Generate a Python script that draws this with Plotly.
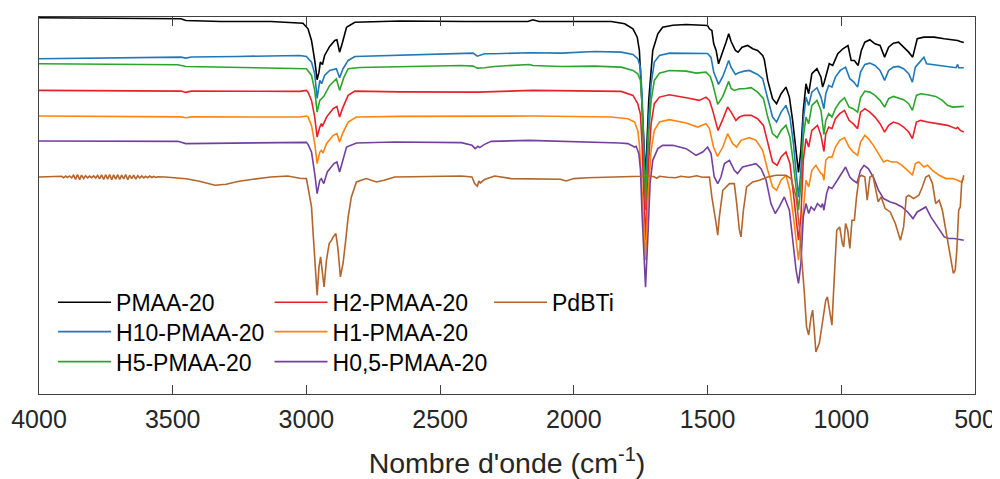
import plotly.graph_objects as go

# ---------------- data (wavenumber cm-1, transmittance a.u. with offsets) ----------------
X_TICKS = [4000, 3500, 3000, 2500, 2000, 1500, 1000, 500]

PMAA20 = [
    (4000, 376.7), (3700, 376.0), (3469, 375.7), (3451, 374.0), (3320, 373.0), (3133, 373.0),
    (3070, 372.5), (3025, 372.0), (3013, 371.3), (2994, 365.7), (2981, 354.0), (2969, 334.0),
    (2960, 314.7), (2953, 322.3), (2948, 332.3), (2940, 330.0), (2932, 339.0), (2913, 348.0),
    (2894, 354.0), (2886, 354.7), (2876, 342.3), (2865, 352.3), (2850, 367.3), (2819, 372.3),
    (2726, 373.3), (2651, 373.5), (2400, 373.0), (2172, 373.0), (2153, 374.7), (2130, 373.0),
    (1860, 373.0), (1810, 370.7), (1779, 365.7), (1763, 357.3), (1755, 344.0), (1748, 311.0),
    (1740, 262.0), (1732, 216.0), (1725, 255.0), (1720, 294.0), (1705, 344.0), (1686, 360.7),
    (1668, 367.3), (1630, 369.3), (1580, 370.0), (1531, 369.0), (1500, 369.0), (1493, 365.7),
    (1484, 364.0), (1477, 350.7), (1468, 344.0), (1459, 330.7), (1443, 342.0), (1431, 352.3),
    (1421, 360.7), (1412, 353.0), (1396, 344.0), (1386, 342.3), (1371, 347.3), (1350, 349.0),
    (1331, 345.7), (1313, 344.0), (1294, 339.0), (1288, 335.0), (1275, 314.0), (1257, 295.7),
    (1242, 290.7), (1225, 300.7), (1207, 307.3), (1194, 297.3), (1182, 274.0), (1169, 244.0),
    (1160, 222.0), (1151, 244.0), (1142, 284.0), (1132, 310.7), (1122, 300.7), (1110, 320.7),
    (1091, 325.7), (1076, 317.3), (1070, 307.3), (1064, 312.0), (1045, 330.7), (1032, 329.0),
    (1013, 340.7), (994, 345.7), (975, 349.0), (963, 334.0), (951, 334.0), (937, 329.0),
    (925, 344.0), (912, 352.3), (893, 354.7), (874, 350.7), (855, 349.0), (838, 337.3),
    (823, 347.3), (805, 351.3), (786, 352.3), (767, 347.3), (748, 342.3), (733, 337.3),
    (716, 355.7), (691, 357.3), (653, 357.3), (615, 355.7), (578, 354.7), (565, 354.0),
    (555, 353.0), (542, 352.0),
]

H10_PMAA20 = [
    (4000, 335.7), (3469, 337.3), (3451, 336.3), (3430, 337.5), (3257, 338.0), (3025, 339.0),
    (3000, 338.0), (2981, 332.3), (2969, 320.7), (2960, 296.0), (2950, 314.0), (2943, 310.7),
    (2932, 319.0), (2913, 324.0), (2888, 325.7), (2876, 316.7), (2863, 325.7), (2844, 334.0),
    (2819, 338.0), (2651, 339.5), (2421, 341.3), (2377, 341.3), (2361, 338.3), (2334, 340.7),
    (2296, 340.7), (2166, 341.7), (2047, 341.3), (1973, 342.3), (1923, 343.0), (1823, 342.3),
    (1779, 340.0), (1761, 335.7), (1751, 327.3), (1745, 300.0), (1732, 202.0), (1720, 277.3),
    (1711, 310.7), (1699, 332.3), (1680, 339.0), (1643, 341.3), (1580, 341.3), (1531, 340.7),
    (1500, 341.0), (1487, 337.0), (1484, 332.3), (1477, 322.3), (1459, 310.0), (1443, 318.0),
    (1421, 334.0), (1412, 327.0), (1396, 320.0), (1384, 321.7), (1363, 323.3), (1344, 324.0),
    (1313, 320.0), (1294, 315.7), (1275, 295.7), (1257, 277.3), (1242, 272.3), (1225, 282.3),
    (1207, 289.0), (1192, 277.3), (1179, 250.7), (1167, 217.3), (1160, 197.0), (1151, 224.0),
    (1142, 274.0), (1132, 297.3), (1122, 289.0), (1110, 302.3), (1091, 306.7), (1076, 297.3),
    (1065, 285.7), (1058, 300.7), (1047, 309.0), (1035, 307.3), (1022, 317.3), (1004, 324.0),
    (984, 327.3), (968, 315.7), (953, 312.3), (939, 307.3), (928, 322.3), (912, 330.0),
    (893, 331.3), (874, 329.0), (855, 324.0), (838, 314.0), (823, 324.0), (805, 327.3),
    (786, 328.0), (767, 325.7), (748, 320.7), (734, 312.3), (723, 327.3), (710, 331.3),
    (697, 334.7), (691, 337.3), (681, 330.7), (659, 330.0), (628, 329.0), (590, 327.3),
    (571, 326.7), (565, 330.0), (561, 326.7), (542, 326.7),
]

H5_PMAA20 = [
    (4000, 330.7), (3481, 329.7), (3451, 328.0), (3257, 326.7), (3025, 325.7), (3000, 325.7),
    (2981, 319.0), (2969, 304.0), (2960, 282.3), (2950, 294.0), (2935, 298.0), (2913, 309.0),
    (2888, 315.7), (2876, 304.0), (2860, 317.0), (2844, 325.7), (2800, 327.0), (2651, 328.0),
    (2421, 329.0), (2377, 328.3), (2361, 326.3), (2334, 326.7), (2296, 328.0), (2166, 330.0),
    (2153, 329.0), (2047, 328.0), (1923, 328.3), (1823, 327.3), (1779, 324.0), (1761, 320.7),
    (1751, 314.0), (1745, 290.0), (1732, 184.0), (1720, 260.7), (1711, 294.0), (1699, 314.0),
    (1680, 321.3), (1643, 324.0), (1580, 323.3), (1543, 321.3), (1506, 322.3), (1490, 318.0),
    (1481, 310.7), (1462, 290.0), (1443, 298.0), (1421, 313.0), (1412, 306.0), (1400, 304.0),
    (1381, 305.7), (1363, 305.7), (1337, 306.7), (1313, 302.3), (1291, 295.7), (1275, 277.3),
    (1257, 260.7), (1240, 256.7), (1225, 264.0), (1207, 269.0), (1192, 257.3), (1179, 230.7),
    (1167, 197.3), (1160, 184.0), (1151, 210.7), (1142, 257.3), (1132, 277.3), (1122, 270.7),
    (1110, 289.0), (1091, 294.0), (1076, 284.0), (1065, 260.0), (1058, 274.0), (1047, 280.7),
    (1035, 277.3), (1022, 285.7), (1006, 292.3), (988, 296.7), (971, 287.3), (956, 285.7),
    (939, 282.3), (928, 296.7), (912, 303.3), (893, 302.3), (874, 299.0), (855, 294.0),
    (838, 287.3), (823, 295.7), (805, 298.0), (786, 296.7), (767, 294.7), (748, 290.7),
    (734, 284.0), (719, 299.0), (703, 300.7), (678, 299.7), (647, 298.0), (622, 294.0),
    (603, 289.0), (584, 287.3), (560, 288.0), (542, 288.0),
]

H2_PMAA20 = [
    (4000, 304.0), (3469, 303.3), (3451, 302.0), (3430, 303.3), (3025, 303.0), (3000, 304.0),
    (2994, 302.3), (2981, 294.0), (2969, 277.3), (2960, 257.3), (2950, 267.3), (2944, 270.7),
    (2940, 268.0), (2925, 277.3), (2900, 285.7), (2886, 288.0), (2876, 277.3), (2865, 286.0),
    (2844, 299.0), (2819, 303.3), (2651, 302.5), (2361, 302.3), (2153, 304.0), (1823, 303.0),
    (1779, 299.0), (1761, 290.7), (1751, 280.0), (1745, 250.0), (1732, 154.0), (1720, 234.0),
    (1711, 270.7), (1699, 290.7), (1680, 297.3), (1643, 299.7), (1580, 296.7), (1543, 294.7),
    (1531, 294.0), (1506, 297.3), (1493, 294.0), (1481, 284.0), (1461, 264.0), (1443, 275.0),
    (1425, 287.3), (1412, 282.3), (1394, 274.0), (1381, 277.3), (1363, 279.0), (1337, 279.0),
    (1313, 275.7), (1291, 269.0), (1275, 250.7), (1257, 232.3), (1240, 229.0), (1225, 237.3),
    (1207, 242.3), (1192, 230.7), (1179, 200.7), (1167, 167.3), (1160, 154.0), (1151, 177.3),
    (1142, 234.0), (1132, 255.7), (1122, 247.3), (1110, 264.0), (1089, 269.0), (1076, 259.0),
    (1072, 252.3), (1065, 243.0), (1058, 260.7), (1047, 267.3), (1035, 265.7), (1022, 275.7),
    (1006, 280.7), (988, 284.0), (971, 274.0), (956, 270.7), (939, 265.7), (928, 282.3),
    (912, 285.7), (893, 282.3), (874, 277.3), (855, 270.7), (838, 262.3), (823, 269.0),
    (805, 272.3), (786, 270.7), (767, 267.3), (748, 262.3), (734, 255.7), (719, 272.3),
    (703, 274.0), (678, 272.3), (641, 270.7), (603, 269.0), (571, 265.7), (565, 267.0),
    (555, 264.0), (542, 262.3),
]

H1_PMAA20 = [
    (4000, 278.3), (3469, 277.5), (3451, 276.7), (3430, 277.5), (3025, 277.3), (3000, 278.3),
    (2994, 277.3), (2981, 269.0), (2969, 250.7), (2960, 230.7), (2950, 242.3), (2944, 244.0),
    (2938, 241.3), (2925, 250.7), (2900, 259.0), (2886, 260.7), (2876, 252.3), (2865, 260.7),
    (2844, 272.3), (2813, 277.3), (2651, 278.0), (2153, 278.3), (1860, 277.3), (1798, 275.7),
    (1773, 272.3), (1761, 264.0), (1755, 250.0), (1748, 220.0), (1732, 134.0), (1722, 200.0),
    (1711, 244.0), (1699, 264.0), (1680, 272.3), (1643, 274.7), (1580, 271.3), (1537, 267.3),
    (1506, 270.7), (1493, 265.7), (1478, 247.3), (1463, 238.0), (1443, 247.3), (1425, 260.7),
    (1406, 250.7), (1391, 247.3), (1375, 254.0), (1344, 256.7), (1319, 254.0), (1294, 244.0),
    (1275, 224.0), (1257, 207.3), (1242, 204.0), (1225, 214.0), (1207, 219.0), (1192, 204.0),
    (1179, 177.3), (1167, 150.7), (1160, 134.0), (1151, 157.3), (1138, 197.3), (1132, 214.0),
    (1122, 207.3), (1110, 224.0), (1095, 229.0), (1076, 220.7), (1070, 220.0), (1065, 214.0),
    (1058, 234.0), (1047, 237.3), (1035, 237.0), (1022, 247.3), (1006, 254.0), (988, 256.7),
    (971, 247.3), (956, 242.3), (939, 239.0), (928, 252.3), (912, 259.0), (899, 255.7),
    (880, 249.0), (861, 240.7), (842, 232.3), (829, 234.0), (811, 232.3), (792, 232.3),
    (773, 229.0), (752, 224.0), (734, 219.0), (723, 230.7), (710, 232.3), (691, 227.3),
    (678, 229.0), (659, 224.0), (634, 219.0), (609, 215.7), (584, 215.7), (565, 214.0),
    (552, 212.3), (542, 215.7),
]

H05_PMAA20 = [
    (4000, 253.3), (3481, 253.0), (3451, 250.7), (3257, 251.3), (3025, 252.0), (3000, 252.0),
    (2994, 250.0), (2981, 242.3), (2969, 220.7), (2960, 200.7), (2950, 214.0), (2944, 215.7),
    (2935, 210.7), (2922, 222.3), (2897, 230.7), (2886, 232.3), (2876, 222.3), (2863, 234.0),
    (2850, 247.3), (2813, 251.3), (2670, 252.3), (2421, 251.7), (2381, 249.0), (2369, 245.7),
    (2359, 248.0), (2352, 246.7), (2334, 250.0), (2309, 253.0), (2166, 254.0), (1829, 251.3),
    (1798, 250.7), (1773, 247.3), (1767, 248.0), (1757, 240.7), (1751, 225.0), (1745, 180.0),
    (1732, 107.0), (1722, 165.0), (1715, 210.7), (1705, 234.0), (1686, 245.7), (1668, 249.0),
    (1630, 249.0), (1580, 245.7), (1543, 239.0), (1518, 242.3), (1500, 247.3), (1487, 240.7),
    (1475, 217.3), (1462, 210.7), (1450, 217.3), (1437, 230.7), (1418, 234.0), (1400, 224.0),
    (1388, 220.7), (1369, 227.3), (1337, 229.0), (1319, 230.7), (1300, 225.7), (1281, 214.0),
    (1263, 190.7), (1247, 180.7), (1232, 187.3), (1213, 197.3), (1194, 184.0), (1182, 157.3),
    (1169, 124.0), (1160, 110.7), (1151, 130.7), (1142, 177.3), (1132, 190.7), (1122, 180.7),
    (1113, 187.3), (1101, 184.0), (1089, 190.7), (1076, 187.3), (1070, 190.7), (1065, 184.0),
    (1055, 200.7), (1047, 207.3), (1035, 205.7), (1019, 212.3), (996, 222.3), (984, 227.3),
    (968, 217.3), (956, 214.0), (941, 211.3), (928, 224.0), (915, 229.0), (899, 225.7),
    (880, 217.3), (861, 204.0), (842, 195.7), (817, 192.3), (798, 190.7), (773, 187.3),
    (752, 182.3), (732, 175.7), (716, 182.3), (697, 185.7), (684, 187.3), (665, 177.3),
    (641, 167.3), (615, 157.3), (597, 155.7), (578, 155.7), (542, 154.0),
]

PDBTI = [
    (4000, 217.3), (3950, 217.6), (3915, 218.0), (3908, 216.6), (3900, 218.2), (3893, 216.8),
    (3886, 218.3), (3878, 216.5), (3871, 219.0), (3863, 215.0), (3856, 219.8), (3848, 214.6),
    (3841, 219.2), (3833, 215.8), (3826, 218.6), (3818, 216.4), (3811, 218.2), (3803, 216.6),
    (3796, 218.4), (3788, 216.2), (3781, 218.8), (3773, 215.6), (3766, 219.4), (3758, 214.8),
    (3751, 219.6), (3743, 215.0), (3736, 219.8), (3728, 214.6), (3721, 219.4), (3713, 215.2),
    (3706, 219.6), (3698, 214.8), (3691, 219.2), (3683, 215.4), (3676, 219.8), (3668, 214.6),
    (3661, 219.0), (3653, 215.6), (3646, 219.2), (3638, 215.2), (3631, 218.6), (3623, 216.2),
    (3616, 218.4), (3608, 216.4), (3601, 218.0), (3593, 216.6), (3586, 218.2), (3578, 216.8),
    (3571, 217.8), (3563, 216.9), (3556, 217.6), (3529, 217.3), (3450, 215.5), (3400, 213.0),
    (3342, 209.0), (3300, 210.0), (3257, 212.7), (3200, 215.0), (3133, 217.3), (3070, 218.3),
    (3025, 216.0), (3000, 215.7), (2994, 207.3), (2981, 187.3), (2975, 161.0), (2966, 121.0),
    (2960, 99.0), (2953, 127.3), (2947, 137.3), (2940, 121.0), (2934, 107.3), (2925, 134.0),
    (2915, 150.7), (2906, 154.0), (2900, 157.3), (2890, 160.7), (2882, 145.0), (2873, 117.3),
    (2863, 131.0), (2853, 154.0), (2844, 177.3), (2832, 197.3), (2813, 212.3), (2776, 215.7),
    (2738, 212.3), (2710, 214.0), (2670, 217.3), (2421, 218.3), (2381, 217.3), (2371, 210.7),
    (2361, 208.0), (2355, 213.3), (2350, 211.3), (2334, 214.7), (2309, 217.3), (2296, 218.3),
    (2234, 215.7), (2110, 215.7), (2050, 215.0), (2029, 213.3), (2000, 215.7), (1950, 216.5),
    (1829, 217.3), (1748, 218.0), (1730, 219.0), (1700, 217.5), (1690, 216.0), (1680, 218.0),
    (1650, 217.0), (1620, 216.5), (1600, 218.0), (1570, 217.0), (1540, 218.5), (1520, 217.0),
    (1493, 217.3), (1484, 197.3), (1468, 170.7), (1462, 159.0), (1456, 177.3), (1443, 204.0),
    (1418, 210.7), (1400, 210.7), (1391, 190.7), (1381, 164.0), (1375, 157.3), (1366, 184.0),
    (1354, 207.3), (1331, 212.3), (1306, 214.0), (1275, 217.3), (1244, 219.0), (1207, 219.0),
    (1188, 215.7), (1169, 197.3), (1157, 167.3), (1147, 134.0), (1138, 100.7), (1130, 67.3),
    (1122, 59.0), (1113, 77.3), (1107, 84.0), (1101, 64.0), (1095, 42.0), (1082, 51.0),
    (1070, 74.0), (1058, 94.0), (1052, 97.3), (1042, 80.7), (1035, 69.0), (1026, 117.3),
    (1017, 164.0), (1006, 167.3), (996, 150.7), (991, 147.3), (984, 170.7), (976, 164.0),
    (968, 145.7), (960, 174.0), (951, 174.0), (943, 197.3), (933, 217.3), (924, 219.0),
    (912, 217.3), (903, 194.0), (893, 217.3), (882, 219.0), (874, 207.3), (862, 192.3),
    (851, 197.3), (836, 185.7), (817, 182.3), (798, 170.7), (779, 154.0), (767, 167.3),
    (757, 197.3), (748, 199.0), (729, 195.7), (710, 199.0), (697, 207.3), (684, 217.3),
    (672, 219.0), (659, 210.7), (647, 190.7), (634, 194.0), (622, 184.0), (605, 157.3),
    (590, 130.7), (581, 120.7), (574, 124.0), (568, 144.0), (561, 184.0), (555, 187.3),
    (550, 210.7), (542, 219.0),
]

# name, data, colour, legend id, legend column x (paper), legend row top y (paper)
SERIES = [
    ("PMAA-20", PMAA20, "#000000", "legend", 0.015, 0.3001),
    ("H10-PMAA-20", H10_PMAA20, "#1f78b8", "legend2", 0.015, 0.2223),
    ("H5-PMAA-20", H5_PMAA20, "#2ca52c", "legend3", 0.015, 0.1427),
    ("H2-PMAA-20", H2_PMAA20, "#e8202a", "legend4", 0.2463, 0.3001),
    ("H1-PMAA-20", H1_PMAA20, "#ff8410", "legend5", 0.2463, 0.2223),
    ("H0,5-PMAA-20", H05_PMAA20, "#7440a0", "legend6", 0.2463, 0.1427),
    ("PdBTi", PDBTI, "#b4652c", "legend7", 0.4808, 0.3001),
]

fig = go.Figure()
for name, data, color, leg, _, _ in SERIES:
    fig.add_trace(go.Scatter(
        x=[p[0] for p in data], y=[p[1] for p in data], mode="lines", name=name,
        line=dict(color=color, width=1.6), legend=leg, showlegend=True,
    ))

AX = "#404040"
TXT = "#262626"
legends = {}
for name, data, color, leg, lx, ly in SERIES:
    legends[leg] = dict(x=lx, y=ly, xanchor="left", yanchor="top", bgcolor="rgba(0,0,0,0)",
                        borderwidth=0, font=dict(size=23, color="#000000"), itemwidth=53,
                        tracegroupgap=0, visible=True)

# The page body has an 8px margin, so the figure is sized/margined to land at the target spots.
fig.update_layout(
    width=992, height=471, autosize=False, showlegend=True,
    margin=dict(l=31, r=24.5, t=8.5, b=85, autoexpand=False),
    paper_bgcolor="white", plot_bgcolor="white",
    font=dict(family="Liberation Sans, Arial, sans-serif", color=TXT),
    xaxis=dict(range=[4000, 500], tickvals=X_TICKS, ticks="inside", ticklen=9, tickwidth=1,
               tickcolor=AX, showline=True, linecolor=AX, linewidth=1, mirror="ticks",
               showgrid=False, zeroline=False, tickfont=dict(size=25, color=TXT),
               ticklabelstandoff=3, ticklabeloverflow="allow", automargin=False,
               title=dict(text="Nombre d'onde (cm<sup>-1</sup>)", font=dict(size=28.5, color=TXT),
                          standoff=31)),
    yaxis=dict(range=[0, 377.5], showticklabels=False, ticks="", showline=True, linecolor=AX,
               linewidth=1, mirror=True, showgrid=False, zeroline=False, automargin=False),
    **legends,
)

fig.write_html("out.html")
